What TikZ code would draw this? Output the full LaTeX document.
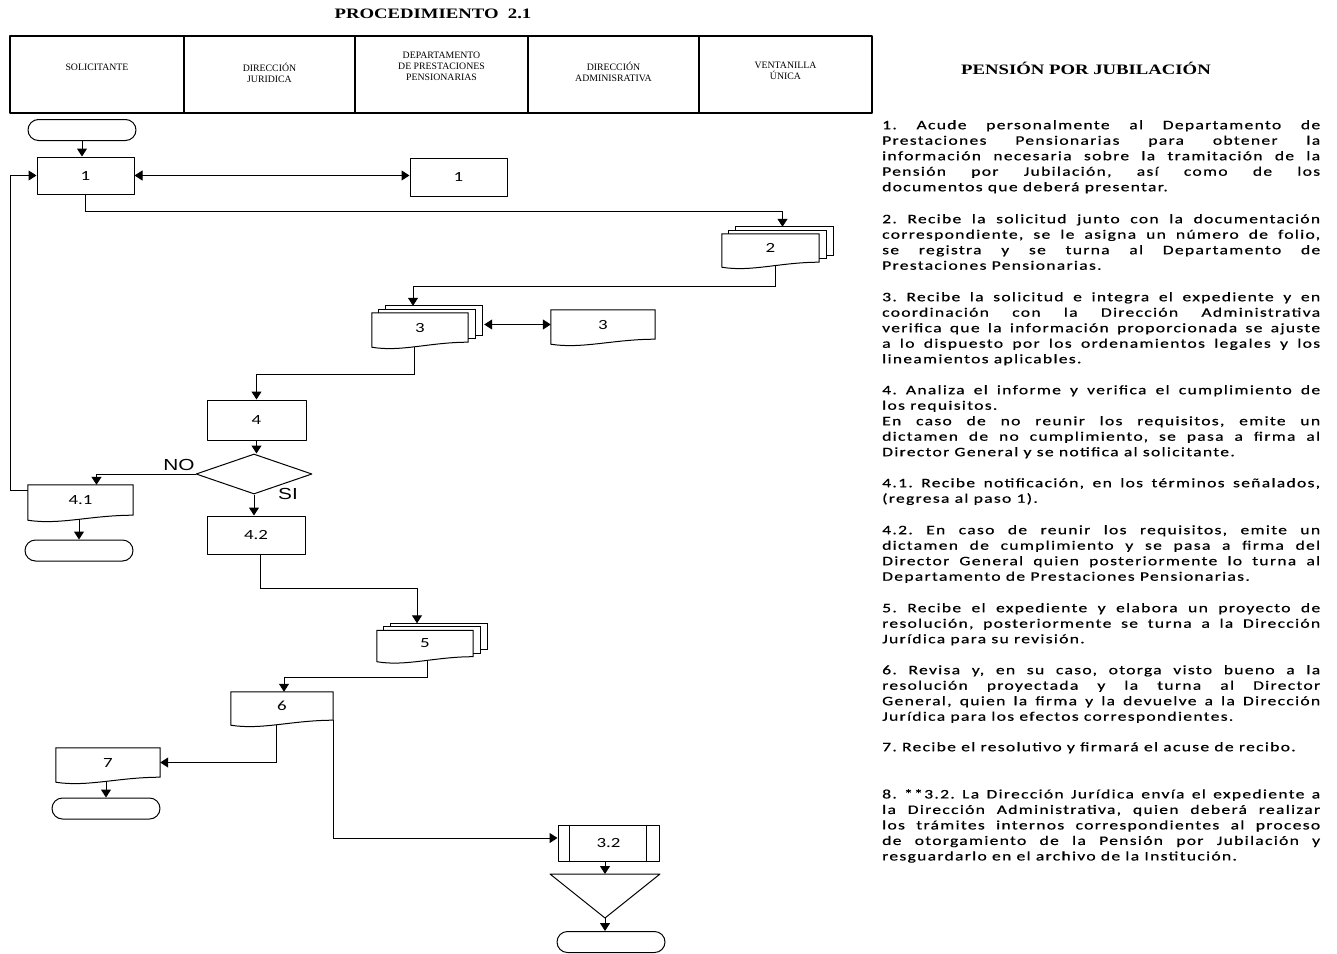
\documentclass[tikz,border=0pt]{standalone}
\usepackage{fontspec}
\usetikzlibrary{arrows.meta,shapes.geometric,calc}
\newfontfamily\descfont[FakeStretch=1.35,LetterSpace=10,FakeBold=0.6]{Carlito}
\newfontfamily\numfont[FakeStretch=1.35]{Carlito}
\newfontfamily\serfont{Liberation Serif}
\newfontfamily\titfont[FakeStretch=1.3]{Liberation Serif}
\newfontfamily\labfont[FakeStretch=1.3]{Liberation Sans}
\tolerance=10000 \hyphenpenalty=10000 \frenchspacing
\pgfdeclarelayer{bg}\pgfdeclarelayer{mid}\pgfsetlayers{bg,mid,main}
% document outline: flat top, wavy bottom
\newcommand{\docline}[1]{%
  \draw[fill=white,line width=1pt] (#1.north west) -- (#1.north east) -- (#1.south east)
    .. controls ($(#1.south west)!0.6!(#1.south east)$) and ($(#1.south west)!0.3!(#1.south east)+(0,10)$)
    .. ($(#1.south west)+(0,5)$) -- cycle;}
% stacked documents behind the front one
\newcommand{\docstack}[1]{%
  \foreach \i in {2,1}
    \draw[fill=white,line width=1pt] ($(#1.north west)+(7*\i,-3.5*\i)$) rectangle ($(#1.south east)+(7*\i,-3.5*\i)$);
  \docline{#1}}
\begin{document}
\begin{tikzpicture}[x=1pt, y=-1pt, line join=round, >={Triangle[width=10pt,length=8pt]},
	proc/.style={draw, line width=1pt, fill=white, inner sep=0, minimum width=98, minimum height=38, font=\numfont\fontsize{14}{15}\selectfont},
	doc/.style={inner sep=0, minimum width=100, minimum height=28, font=\numfont\fontsize{14}{15}\selectfont},
	term/.style={draw, line width=1pt, fill=white, rounded corners=10.5, minimum width=108, minimum height=21, inner sep=0},
	flow/.style={line width=1pt, ->},
	hdr/.style={align=center, inner sep=0, font=\serfont\fontsize{9.8}{11}\selectfont},
	desc/.style={anchor=north west, inner sep=0, text width=438, align=justify, font=\descfont\fontsize{13}{15.5}\selectfont}]
	\useasboundingbox (0,0) rectangle (1337,953);
	% header
	\node[font=\titfont\bfseries\fontsize{14.4}{16}\selectfont] (title) at (433,14) {PROCEDIMIENTO~~2.1};
	\draw[line width=1.1pt] (10,36) rectangle (872,113);
	\foreach \x in {184,355,528,699}\draw[line width=1.1pt] (\x,36)--(\x,113);
	\node[hdr] (hSol) at (97,67) {SOLICITANTE};
	\node[hdr] (hJur) at (269.5,72.5) {DIRECCIÓN\\JURIDICA};
	\node[hdr] (hDep) at (441.5,66) {DEPARTAMENTO\\DE PRESTACIONES\\PENSIONARIAS};
	\node[hdr] (hAdm) at (613.5,71.5) {DIRECCIÓN\\ADMINISRATIVA};
	\node[hdr] (hVen) at (785.5,71) {VENTANILLA\\ÚNICA};
	% flow nodes
	\node[term] (start) at (82,130) {};
	\node[proc, minimum width=97, minimum height=37] (b1) at (85.5,175.5) {1};
	\node[proc, minimum width=97] (v1) at (458.5,177) {1};
	\node[doc, minimum width=97] (d2) at (770.5,248) {2};
	\node[doc, minimum width=96, minimum height=29] (d3) at (420,327.5) {3};
	\node[doc, minimum width=104, minimum height=29] (d3b) at (603,324.5) {3};
	\node[proc, minimum width=99, minimum height=40] (b4) at (256.5,420) {4};
	\node[diamond, draw, line width=1pt, fill=white, inner sep=0, minimum width=116, minimum height=40] (dia) at (254,474) {};
	\node[font=\labfont\fontsize{16}{16}\selectfont] (no) at (179,465) {NO};
	\node[font=\labfont\fontsize{16}{16}\selectfont] (si) at (288,494) {SI};
	\node[doc, minimum width=105, minimum height=30] (d41) at (80.5,500) {4.1};
	\node[term] (end41) at (79,550.5) {};
	\node[proc] (b42) at (256,535) {4.2};
	\node[doc, minimum width=96, minimum height=26] (d5) at (425,643.5) {5};
	\node[doc, minimum width=102] (d6) at (282,706) {6};
	\node[doc, minimum width=104, minimum height=29] (d7) at (108,762.5) {7};
	\node[term] (end7) at (106,808.5) {};
	\node[proc, minimum width=101, minimum height=36] (p32) at (608.5,843) {3.2};
	\draw[line width=1pt] ($(p32.north west)+(12,0)$) -- ($(p32.south west)+(12,0)$);
	\draw[line width=1pt] ($(p32.north east)+(-13,0)$) -- ($(p32.south east)+(-13,0)$);
	\coordinate (mrgL) at (550,874); \coordinate (mrgR) at (660,874); \coordinate (mrgB) at (605,918);
	\draw[line width=1pt, fill=white] (mrgL) -- (mrgR) -- (mrgB) -- cycle;
	\node[term] (endfin) at (611,942) {};
	\begin{pgfonlayer}{mid}
		\docstack{d2} \docstack{d3} \docline{d3b} \docline{d41}
		\docstack{d5} \docline{d6} \docline{d7}
	\end{pgfonlayer}
	% connectors
	\begin{pgfonlayer}{bg}
		\draw[flow] (start.south) -- (start.south |- b1.north);
		\draw[line width=1pt,<->] (b1.east) -- (b1.east -| v1.west);
		\draw[flow] (b1.south) -- ++(0,17) -| ($(d2.north)+(12,-7)$);
		\draw[flow] ($(d2.south)+(5,0)$) -- ++(0,24) -| ($(d3.north)+(-7,-7)$);
		\draw[line width=1pt,<->] ($(d3.east)+(16,-3)$) -- (d3b.west);
		\draw[flow] ($(d3.south)+(-6,0)$) -- ++(0,32) -| (b4.north);
		\draw[flow] (b4.south) -- (b4.south |- dia.north);
		\draw[flow] (dia.west) -| ($(d41.north)+(16,0)$);
		\draw[flow] (dia.south) -- (dia.south |- b42.north);
		\draw[flow] ($(d41.north west)+(0,6)$) -- ++(-17,0) |- (b1.west);
		\draw[flow] (end41.north |- d41.south) -- (end41.north);
		\draw[flow] ($(b42.south)+(4,0)$) -- ++(0,34) -| ($(d5.north)+(-8,-7)$);
		\draw[flow] ($(d5.south)+(2,0)$) -- ++(0,20.5) -| ($(d6.north)+(2,0)$);
		\draw[flow] ($(d6.south)+(-6,0)$) |- (d7.east);
		\draw[flow] (d6.south east) |- ($(p32.west)+(0,-5)$);
		\draw[flow] (end7.north |- d7.south) -- (end7.north);
		\draw[flow] (mrgB |- p32.south) -- (mrgB |- mrgL);
		\draw[flow] (mrgB) -- (mrgB |- endfin.north);
	\end{pgfonlayer}
	% description
	\node[font=\titfont\bfseries\fontsize{14.4}{16}\selectfont] (tit2) at (1086,68) {PENSIÓN POR JUBILACIÓN};
	\node[desc] (t1) at (882,120) {1. Acude personalmente al Departamento de\linebreak Prestaciones Pensionarias para obtener la\linebreak información necesaria sobre la tramitación de la\linebreak Pensión por Jubilación, así como de los\linebreak documentos que deberá presentar.};
	\node[desc] (t2) at (882,214) {2. Recibe la solicitud junto con la documentación\linebreak correspondiente, se le asigna un número de folio,\linebreak se registra y se turna al Departamento de\linebreak Prestaciones Pensionarias.};
	\node[desc] (t3) at (882,292) {3. Recibe la solicitud e integra el expediente y en\linebreak coordinación con la Dirección Administrativa\linebreak verifica que la información proporcionada se ajuste\linebreak a lo dispuesto por los ordenamientos legales y los\linebreak lineamientos aplicables.};
	\node[desc] (t4) at (882,385) {4. Analiza el informe y verifica el cumplimiento de\linebreak los requisitos.\\ En caso de no reunir los requisitos, emite un\linebreak dictamen de no cumplimiento, se pasa a firma al\linebreak Director General y se notifica al solicitante.};
	\node[desc] (t41) at (882,478) {4.1. Recibe notificación, en los términos señalados,\linebreak (regresa al paso 1).};
	\node[desc] (t42) at (882,525) {4.2. En caso de reunir los requisitos, emite un\linebreak dictamen de cumplimiento y se pasa a firma del\linebreak Director General quien posteriormente lo turna al\linebreak Departamento de Prestaciones Pensionarias.};
	\node[desc] (t5) at (882,603) {5. Recibe el expediente y elabora un proyecto de\linebreak resolución, posteriormente se turna a la Dirección\linebreak Jurídica para su revisión.};
	\node[desc] (t6) at (882,665) {6. Revisa y, en su caso, otorga visto bueno a la\linebreak resolución proyectada y la turna al Director\linebreak General, quien la firma y la devuelve a la Dirección\linebreak Jurídica para los efectos correspondientes.};
	\node[desc] (t7) at (882,742) {7. Recibe el resolutivo y firmará el acuse de recibo.};
	\node[desc] (t8) at (882,789) {8. **3.2. La Dirección Jurídica envía el expediente a\linebreak la Dirección Administrativa, quien deberá realizar\linebreak los trámites internos correspondientes al proceso\linebreak de otorgamiento de la Pensión por Jubilación y\linebreak resguardarlo en el archivo de la Institución.};
\end{tikzpicture}
\end{document}
